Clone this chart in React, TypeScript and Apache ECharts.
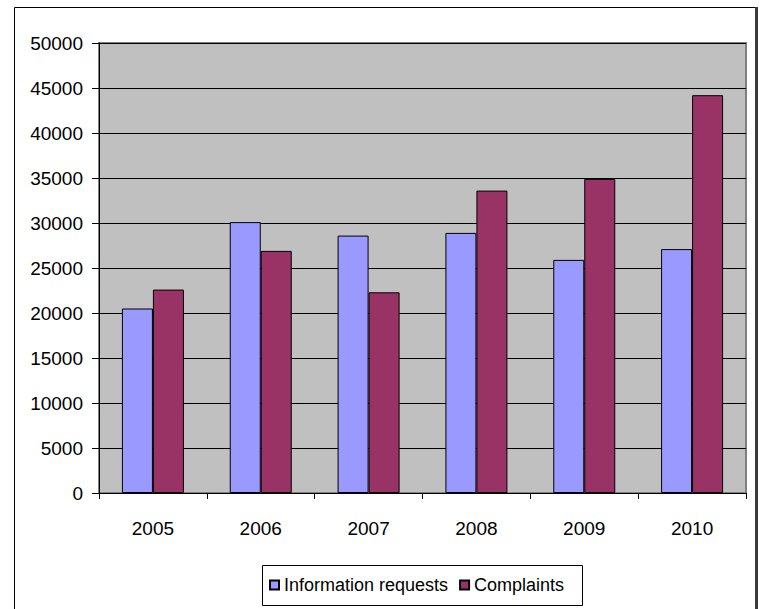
import React, { useEffect, useRef } from "react";
import * as echarts from "echarts";

// Yearly counts of information requests and complaints
const years = ["2005", "2006", "2007", "2008", "2009", "2010"];
const informationRequests = [20500, 30100, 28600, 28900, 25900, 27100];
const complaints = [22600, 26900, 22300, 33600, 34900, 44200];
const seriesNames = ["Information requests", "Complaints"];

const FONT = "'Liberation Sans', Arial, sans-serif";

export default function App() {
  const ref = useRef<HTMLDivElement | null>(null);

  useEffect(() => {
    if (!ref.current) return;
    const chart = echarts.init(ref.current, undefined, { renderer: "svg" });
    chart.setOption({
      animation: false,
      backgroundColor: "#ffffff",
      textStyle: { fontFamily: FONT },
      graphic: [
        // outer chart frame
        {
          type: "rect",
          shape: { x: 14.5, y: 7.5, width: 741, height: 620 },
          style: { fill: "none", stroke: "#000000", lineWidth: 1 },
          silent: true,
        },
        {
          type: "line",
          shape: { x1: 756.5, y1: 7, x2: 756.5, y2: 609 },
          style: { stroke: "#3a3a3a", lineWidth: 3 },
          silent: true,
        },
        // legend frame
        {
          type: "rect",
          shape: { x: 262.5, y: 565.5, width: 320, height: 40 },
          style: { fill: "#ffffff", stroke: "#000000", lineWidth: 1 },
          silent: true,
        },
      ],
      legend: {
        data: seriesNames,
        left: 269,
        top: 576,
        padding: 0,
        itemGap: 11,
        itemWidth: 9,
        itemHeight: 9,
        icon: "rect",
        textStyle: { fontSize: 18, color: "#000000", fontFamily: FONT },
        z: 10,
      },
      grid: {
        left: 99,
        top: 43,
        right: 14,
        bottom: 116,
        show: true,
        backgroundColor: "#c0c0c0",
        borderColor: "#808080",
        borderWidth: 2,
      },
      xAxis: {
        type: "category",
        data: years,
        axisLine: { show: true, lineStyle: { color: "#000000", width: 1 } },
        axisTick: { show: true, length: 6, alignWithLabel: false, lineStyle: { color: "#000000" } },
        axisLabel: { fontSize: 19, color: "#000000", margin: 26, fontFamily: FONT },
        splitLine: { show: false },
      },
      yAxis: {
        type: "value",
        min: 0,
        max: 50000,
        interval: 5000,
        axisLine: { show: true, lineStyle: { color: "#000000", width: 1 } },
        axisTick: { show: true, length: 7, lineStyle: { color: "#000000" } },
        axisLabel: {
          fontSize: 19,
          color: "#000000",
          margin: 16,
          fontFamily: FONT,
          formatter: (v: number) => String(v),
        },
        splitLine: { show: true, lineStyle: { color: "#000000", width: 1 } },
      },
      series: [
        {
          name: seriesNames[0],
          type: "bar",
          data: informationRequests,
          barWidth: 31,
          barGap: "0%",
          itemStyle: { color: "#9999ff", borderColor: "#000000", borderWidth: 1 },
        },
        {
          name: seriesNames[1],
          type: "bar",
          data: complaints,
          barWidth: 31,
          barGap: "0%",
          itemStyle: { color: "#993366", borderColor: "#000000", borderWidth: 1 },
        },
      ],
    });
    return () => chart.dispose();
  }, []);

  return (
    <div
      ref={ref}
      style={{ position: "absolute", left: 0, top: 0, width: 760, height: 609 }}
    />
  );
}
